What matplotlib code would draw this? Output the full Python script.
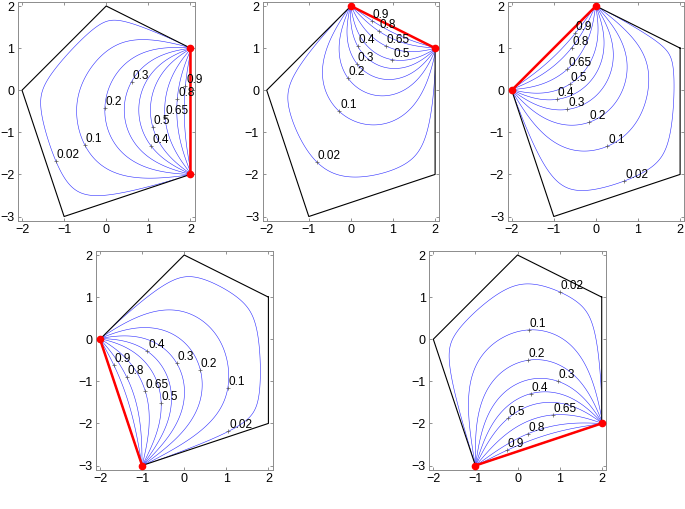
import numpy as np
import matplotlib
matplotlib.use("Agg")
import matplotlib.pyplot as plt
from matplotlib.path import Path
from matplotlib.patches import Polygon

# pentagon vertices, edge k joins vertex k and k+1
vx = [2, 0, -2, -1, 2]
vy = [1, 2, 0, -3, -2]
# highlighted edge for each panel
red_edges = [4, 0, 1, 2, 3]
levels = [0.02, 0.1, 0.2, 0.3, 0.4, 0.5, 0.65, 0.8, 0.9]
level_txt = ["0.02", "0.1", "0.2", "0.3", "0.4", "0.5", "0.65", "0.8", "0.9"]

# approximate label spots (x, y) per panel, same order as levels
label_xy = [
    [(-1.16, -1.67), (-0.50, -1.28), (-0.04, -0.43), (0.58, 0.22), (1.08, -1.34),
     (1.10, -0.88), (1.42, -0.62), (1.66, -0.21), (1.86, 0.10)],
    [(-0.77, -1.66), (-0.26, -0.50), (-0.02, 0.32), (0.19, 0.66), (0.19, 1.06),
     (0.99, 0.76), (0.85, 1.10), (0.69, 1.45), (0.52, 1.71)],
    [(0.67, -2.15), (0.26, -1.30), (-0.20, -0.72), (-0.68, -0.40), (-0.93, -0.23),
     (-0.64, 0.16), (-0.67, 0.50), (-0.58, 1.01), (-0.50, 1.37)],
    [(1.03, -2.15), (1.01, -1.14), (0.36, -0.73), (-0.19, -0.60), (-0.85, -0.25),
     (-0.57, -1.53), (-0.93, -1.22), (-1.33, -0.88), (-1.68, -0.61)],
    [(0.99, 1.13), (0.27, 0.26), (0.26, -0.51), (0.95, -1.03), (0.32, -1.31),
     (-0.19, -1.93), (0.85, -1.89), (0.26, -2.26), (-0.24, -2.66)],
]

W, H = 685, 509
# left, top of each panel in pixels
panel_px = [(17.8, 1.8), (262.5, 1.8), (507.5, 1.8), (95.8, 250.8), (429.1, 250.8)]
PPU = 42.1

verts = np.column_stack([vx, vy]).astype(float)
poly_path = Path(verts)


def harmonic_measure(edge, h=0.025, n_iter=2000):
    x = np.arange(-2.1, 2.1 + h / 2, h)
    y = np.arange(-3.1, 2.1 + h / 2, h)
    X, Y = np.meshgrid(x, y)
    inside = poly_path.contains_points(np.column_stack([X.ravel(), Y.ravel()])).reshape(X.shape)
    ends = np.roll(verts, -1, axis=0)
    d = []
    for a, b in zip(verts, ends):
        ab = b - a
        t = np.clip(((X - a[0]) * ab[0] + (Y - a[1]) * ab[1]) / (ab @ ab), 0, 1)
        d.append(np.hypot(X - a[0] - t * ab[0], Y - a[1] - t * ab[1]))
    nearest = np.argmin(np.array(d), axis=0)
    u = np.where(nearest == edge, 1.0, 0.0)
    u[inside] = 0.2
    I, J = np.indices(u.shape)
    masks = [inside & ((I + J) % 2 == k) for k in (0, 1)]
    w = 1.94
    avg = np.zeros_like(u)
    for _ in range(n_iter):
        for m in masks:
            avg[1:-1, 1:-1] = 0.25 * (u[:-2, 1:-1] + u[2:, 1:-1] + u[1:-1, :-2] + u[1:-1, 2:])
            u[m] += w * (avg[m] - u[m])
    return X, Y, u


plt.rcParams['font.family'] = ['Liberation Sans', 'DejaVu Sans']
fig = plt.figure(figsize=(W / 100, H / 100), dpi=100)

for k, edge in enumerate(red_edges):
    left, top = panel_px[k]
    wpx, hpx = 4.2 * PPU, 5.2 * PPU
    ax = fig.add_axes([left / W, 1 - (top + hpx) / H, wpx / W, hpx / H])

    X, Y, u = harmonic_measure(edge)
    cs = ax.contour(X, Y, u, levels=levels, colors='#2a2aff', linewidths=0.4)
    clip = Polygon(verts, closed=True, transform=ax.transData)
    cs.set_clip_path(clip)

    # polygon outline
    ax.plot(vx + [vx[0]], vy + [vy[0]], color='k', lw=0.8, zorder=3)
    i0, i1 = edge, (edge + 1) % 5
    ax.plot([vx[i0], vx[i1]], [vy[i0], vy[i1]], color='r', lw=1.8, zorder=4)
    ax.plot([vx[i0], vx[i1]], [vy[i0], vy[i1]], 'o', color='r', ms=4.5, zorder=5)

    # MATLAB style labels: '+' on the line, text to its upper right
    for j, lev in enumerate(levels):
        segs = [s for s in cs.allsegs[j] if len(s)]
        pts = np.vstack(segs)
        pts = pts[poly_path.contains_points(pts)]
        tx, ty = label_xy[k][j]
        p = pts[np.argmin(np.hypot(pts[:, 0] - tx, pts[:, 1] - ty))]
        ax.plot(p[0], p[1], '+', color='0.35', ms=3.5, mew=0.5, zorder=6)
        ax.annotate(level_txt[j], p, xytext=(0.5, 0.0), textcoords='offset points',
                    ha='left', va='bottom', fontsize=8.5, zorder=7)

    ax.set_xlim(-2.1, 2.1)
    ax.set_ylim(-3.1, 2.1)
    ax.set_xticks([-2, -1, 0, 1, 2])
    ax.set_yticks([-3, -2, -1, 0, 1, 2])
    ax.tick_params(direction='in', length=2.5, width=0.5, top=True, right=True,
                   labelsize=9, color='0.4', pad=2.5)
    for sp in ax.spines.values():
        sp.set_color('0.55')
        sp.set_linewidth(0.7)

fig.savefig('out.png', dpi=100)
